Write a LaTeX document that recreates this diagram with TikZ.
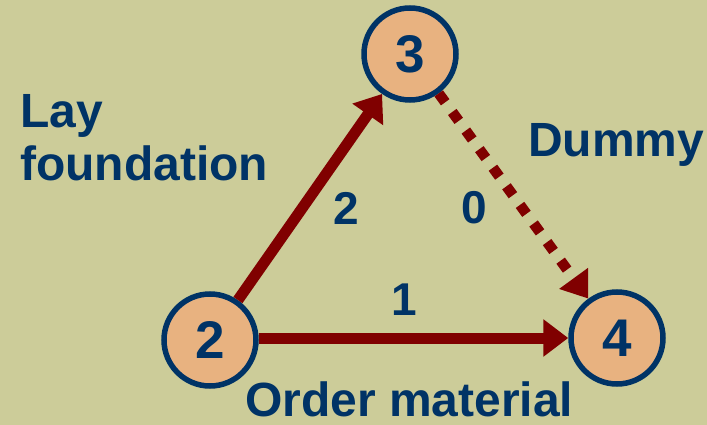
\documentclass[tikz,border=0pt]{standalone}
\usepackage{fontspec}
\setmainfont{Liberation Sans}
\usetikzlibrary{arrows.meta}
\definecolor{bgkhaki}{RGB}{204,204,153}
\definecolor{nodefill}{RGB}{232,178,128}
\definecolor{navy}{RGB}{0,51,102}
\definecolor{darkred}{RGB}{128,0,0}
\begin{document}
\begin{tikzpicture}[x=1pt,y=-1pt,
  event/.style={circle,draw=navy,fill=nodefill,line width=5.5pt,minimum size=92pt,inner sep=0pt,
    font=\fontsize{53}{53}\selectfont\bfseries,text=navy},
  lbl/.style={inner sep=0pt,font=\fontsize{48}{53}\selectfont\bfseries,text=navy},
  num/.style={inner sep=0pt,font=\fontsize{46}{53}\selectfont\bfseries,text=navy},
  act/.style={draw=darkred,line width=11pt,-{Triangle[length=25pt,width=36pt]}},
  dummyact/.style={draw=darkred,line width=10.5pt,dash pattern=on 11pt off 12pt,-{Triangle[length=25pt,width=34pt]}}]
\fill[bgkhaki] (0,0) rectangle (707,425);
\useasboundingbox (0,0) rectangle (707,425);
\node[event] (n2) at (210,340) {2};
\node[event] (n3) at (410,54) {3};
\node[event] (n4) at (617,338) {4};
\draw[act] (n2) -- (n3);
\draw[act] (n2.east |- 0,338) -- (n4);
\draw[dummyact] (n3) -- (n4);
\node[lbl,anchor=base west,align=left] (lay) at (20,180) {Lay\\foundation};
\node[lbl,anchor=base west] (order) at (245,416) {Order material};
\node[lbl,anchor=base west] (dummy) at (528,157) {Dummy};
\node[num] (w2) at (346,208) {2};
\node[num] (w0) at (474,208) {0};
\node[num] (w1) at (404,300) {1};
\end{tikzpicture}
\end{document}
